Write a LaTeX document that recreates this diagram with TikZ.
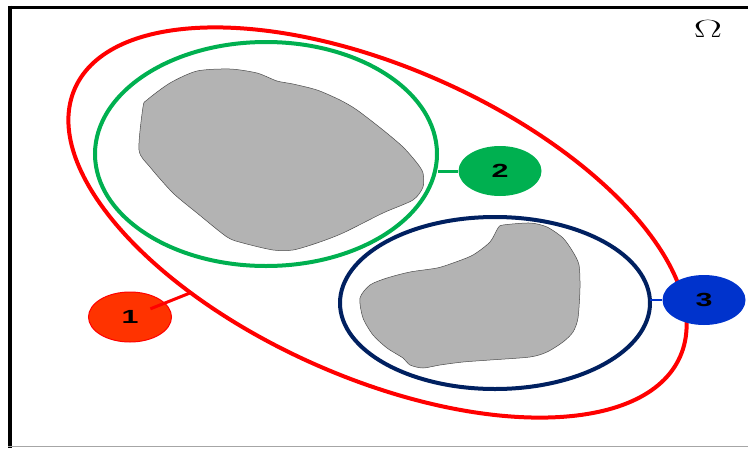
\documentclass[tikz,border=0pt]{standalone}
\usepackage{fontspec}
\newfontfamily\numfont{Liberation Sans}
\usetikzlibrary{shapes.geometric,calc}
\definecolor{setred}{HTML}{FF0000}
\definecolor{setorange}{HTML}{FF3300}
\definecolor{setgreen}{HTML}{00B050}
\definecolor{setnavy}{HTML}{002060}
\definecolor{setblue}{HTML}{0033CC}
\definecolor{blobgray}{HTML}{B3B3B3}
\begin{document}
\begin{tikzpicture}[x=1pt,y=-1pt,
    blob/.style={fill=blobgray,draw=black!70,line width=0.5pt},
    label/.style={ellipse,inner sep=0pt,minimum width=83pt,minimum height=50pt,
      font=\numfont\bfseries\fontsize{19}{19}\selectfont}]
  \useasboundingbox (0,0) rectangle (748,448);
  % frame
  \draw[black,line width=3pt] (8,7) -- (748,7);
  \draw[black,line width=4pt] (9.5,5.5) -- (9.5,448);
  \draw[black!35,line width=1.5pt] (8,446.5) -- (748,446.5);
  \node (omega) at (708,29) {\scalebox{1.7}[1]{\fontsize{26}{26}\selectfont$\Omega$}};
  % obstacles
  \draw[blob] plot[smooth cycle,tension=0.45] coordinates {
    (197,71) (230,69) (257,73) (277,81) (293,84) (317,90) (340,100) (357,110)
    (383,130) (403,147) (417,163) (423,173) (423,187) (413,200) (383,213)
    (343,233) (317,243) (293,250) (273,250) (243,243) (227,237) (197,213)
    (173,193) (150,167) (139,150) (143,107) (147,100) (170,83)};
  \draw[blob] plot[smooth cycle,tension=0.45] coordinates {
    (503,225) (530,223) (547,227) (563,238) (573,252) (579,265) (580,288)
    (578,318) (573,332) (563,342) (547,352) (530,357) (490,360) (463,362)
    (440,365) (423,368) (410,365) (403,358) (387,348) (373,335) (363,318)
    (360,298) (370,285) (387,278) (410,272) (437,268) (453,263) (473,255)
    (490,242) (498,228)};
  % sets
  \draw[setgreen,line width=4pt] (266,154) ellipse [x radius=171,y radius=112];
  \draw[setnavy,line width=4pt] (495,303) ellipse [x radius=155,y radius=86];
  \draw[setred,line width=4pt,rotate around={-23.9:(377.5,222.5)}]
    (377.5,222.5) ellipse [x radius=331,y radius=155];
  \coordinate (r1) at (190,293);
  \coordinate (g2) at (438,171);
  \coordinate (b3) at (650,300);
  % labels
  \node[label,fill=setorange,draw=setred,line width=1pt] (n1) at (130,317) {\scalebox{1.6}[1]{1}};
  \node[label,fill=setgreen] (n2) at (500,171) {\scalebox{1.6}[1]{2}};
  \node[label,fill=setblue] (n3) at (704,300) {\scalebox{1.6}[1]{3}};
  \draw[setred,line width=3pt,shorten <=22pt] (n1.center) -- (r1);
  \draw[setgreen,line width=3pt] (g2) -- (n2);
  \draw[setblue,line width=2.5pt] (b3) -- (n3);
\end{tikzpicture}
\end{document}
